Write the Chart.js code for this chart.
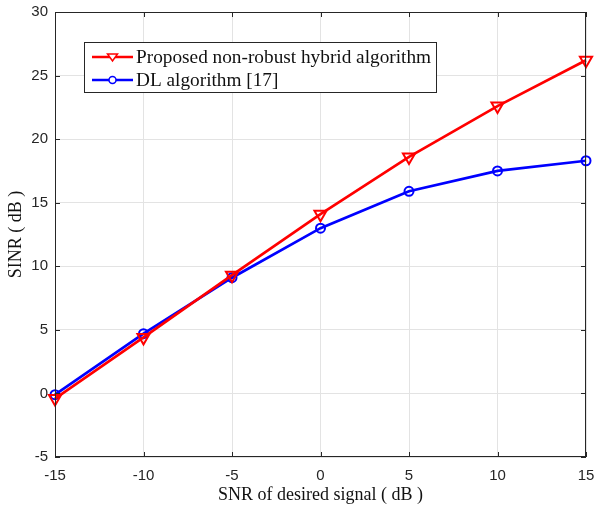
<!DOCTYPE html>
<html>
<head>
<meta charset="utf-8">
<script src="https://cdn.jsdelivr.net/npm/chart.js@4.4.1/dist/chart.umd.min.js"></script>
<style>
    html, body { margin: 0; padding: 0; background: #fff; }
    #wrap { width: 595px; height: 506px; }
</style>
</head>
<body>
<div id="wrap"><canvas id="sinrChart" width="595" height="506"></canvas></div>
<script>
const snrLabels = [-15, -10, -5, 0, 5, 10, 15];
const proposedSinr = [-0.4, 4.4, 9.3, 14.1, 18.6, 22.6, 26.2];
const dlSinr = [-0.1, 4.7, 9.1, 13.0, 15.9, 17.5, 18.3];
const xTicks = [-15, -10, -5, 0, 5, 10, 15];
const yTicks = [-5, 0, 5, 10, 15, 20, 25, 30];
const legendNames = ["Proposed non-robust hybrid algorithm", "DL algorithm [17]"];

const axisColor = "#262626";

// box round the plot + ticks pointing inwards, like matlab
const boxPlugin = {
    id: "boxPlugin",
    afterDraw(chart) {
        const { ctx, chartArea: a, scales } = chart;
        ctx.save();
        ctx.strokeStyle = axisColor;
        ctx.lineWidth = 1;
        ctx.strokeRect(a.left + 0.5, a.top + 0.5, a.right - a.left - 1, a.bottom - a.top - 1);
        ctx.beginPath();
        xTicks.forEach((t) => {
            const x = Math.round(scales.x.getPixelForValue(t)) + 0.5;
            ctx.moveTo(x, a.bottom); ctx.lineTo(x, a.bottom - 5);
            ctx.moveTo(x, a.top); ctx.lineTo(x, a.top + 5);
        });
        yTicks.forEach((t) => {
            const y = Math.round(scales.y.getPixelForValue(t)) + 0.5;
            ctx.moveTo(a.left, y); ctx.lineTo(a.left + 5, y);
            ctx.moveTo(a.right, y); ctx.lineTo(a.right - 5, y);
        });
        ctx.stroke();

        // legend box
        const lx = 84, ly = 42, lw = 352, lh = 50;
        ctx.fillStyle = "#fff";
        ctx.fillRect(lx, ly, lw, lh);
        ctx.strokeStyle = axisColor;
        ctx.strokeRect(lx + 0.5, ly + 0.5, lw, lh);
        ctx.font = "19.3px 'Liberation Serif'";
        ctx.textBaseline = "middle";
        chart.data.datasets.forEach((ds, i) => {
            const y = 57 + i * 23;
            ctx.strokeStyle = ds.borderColor;
            ctx.lineWidth = 2.5;
            ctx.beginPath();
            ctx.moveTo(92, y); ctx.lineTo(133, y);
            ctx.stroke();
            ctx.lineWidth = 1.5;
            ctx.beginPath();
            if (i === 0) {
                ctx.moveTo(107.5, y - 3); ctx.lineTo(117.5, y - 3); ctx.lineTo(112.5, y + 4); ctx.closePath();
            } else {
                ctx.arc(112.5, y, 3.5, 0, Math.PI * 2);
            }
            ctx.fillStyle = "#fff";
            ctx.fill();
            ctx.stroke();
            ctx.fillStyle = "#111";
            ctx.fillText(ds.label, 136, y + 1);
        });
        ctx.restore();
    },
};

new Chart(document.getElementById("sinrChart"), {
    type: "line",
    data: {
        labels: snrLabels,
        datasets: [
            {
                label: legendNames[0],
                data: snrLabels.map((x, i) => ({ x: x, y: proposedSinr[i] })),
                borderColor: "#ff0000",
                borderWidth: 2.7,
                pointStyle: "triangle",
                rotation: 180,
                pointRadius: 7,
                pointBorderWidth: 2,
                pointBackgroundColor: "rgba(0,0,0,0)",
                pointBorderColor: "#ff0000",
                tension: 0,
            },
            {
                label: legendNames[1],
                data: snrLabels.map((x, i) => ({ x: x, y: dlSinr[i] })),
                borderColor: "#0000ff",
                borderWidth: 2.7,
                pointStyle: "circle",
                pointRadius: 4.5,
                pointBorderWidth: 2,
                pointBackgroundColor: "rgba(0,0,0,0)",
                pointBorderColor: "#0000ff",
                tension: 0,
            },
        ],
    },
    options: {
        responsive: false,
        animation: false,
        clip: false,
        layout: { padding: { top: 12, right: 9, left: 0, bottom: 0 } },
        plugins: {
            legend: { display: false },
            tooltip: { enabled: false },
        },
        scales: {
            x: {
                type: "linear",
                min: -15,
                max: 15,
                afterBuildTicks: (s) => { s.ticks = xTicks.map((v) => ({ value: v })); },
                afterFit: (s) => { s.height = 49; s.paddingLeft = 0; s.paddingRight = 0; },
                grid: { color: "#e3e3e3", drawTicks: false },
                border: { display: false },
                ticks: { color: axisColor, padding: 10, font: { family: "'Liberation Sans'", size: 15 } },
                title: {
                    display: true,
                    text: "SNR of desired signal ( dB )",
                    color: "#111",
                    font: { family: "'Liberation Serif'", size: 18 },
                    padding: { top: 0, bottom: 0 },
                },
            },
            y: {
                min: -5,
                max: 30,
                afterBuildTicks: (s) => { s.ticks = yTicks.map((v) => ({ value: v })); },
                afterFit: (s) => { s.width = 55; s.paddingTop = 0; s.paddingBottom = 0; },
                grid: { color: "#e3e3e3", drawTicks: false },
                border: { display: false },
                ticks: { color: axisColor, padding: 7, font: { family: "'Liberation Sans'", size: 15 } },
                title: {
                    display: true,
                    text: "SINR ( dB )",
                    color: "#111",
                    font: { family: "'Liberation Serif'", size: 18 },
                    padding: { top: 5, bottom: 0 },
                },
            },
        },
    },
    plugins: [boxPlugin],
});
</script>
</body>
</html>
